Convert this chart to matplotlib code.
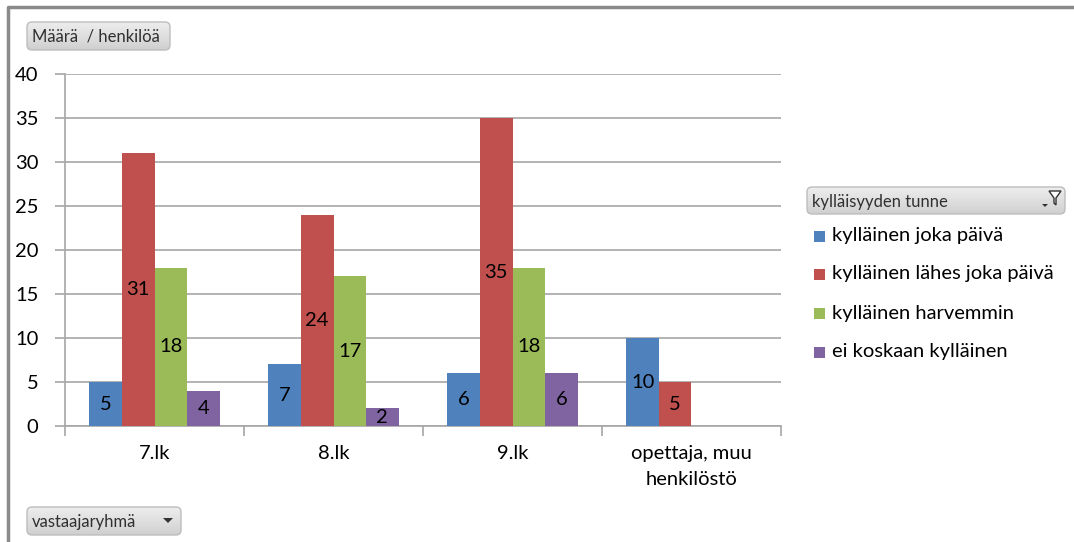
import numpy as np
import matplotlib.pyplot as plt
from matplotlib.patches import FancyBboxPatch, Polygon, Rectangle

plt.rcParams['font.family'] = ['Lato', 'DejaVu Sans']

# Vastaukset ryhmittäin
groups = ['7.lk', '8.lk', '9.lk', 'opettaja, muu\nhenkilöstö']
series = ['kylläinen joka päivä', 'kylläinen lähes joka päivä',
          'kylläinen harvemmin', 'ei koskaan kylläinen']
joka_paiva = [5, 7, 6, 10]
lahes = [31, 24, 35, 5]
harvemmin = [18, 17, 18, 0]
ei_koskaan = [4, 2, 6, 0]
colors = ['#4F81BD', '#C0504D', '#9BBB59', '#8064A2']

W, H = 1074, 542
fig = plt.figure(figsize=(W / 100, H / 100), dpi=100)
fig.patch.set_facecolor('white')

# plot area in pixels
x0, x1, ytop, ybot = 65, 781, 74, 426
ax = fig.add_axes([x0 / W, (H - ybot) / H, (x1 - x0) / W, (ybot - ytop) / H])

grid_c = '#A6A6A6'
x = np.arange(len(groups))
bw = 0.182
for i, (vals, c) in enumerate(zip([joka_paiva, lahes, harvemmin, ei_koskaan], colors)):
    v = np.array(vals, dtype=float)
    v[v == 0] = np.nan
    bars = ax.bar(x + (i - 1.5) * bw, v, bw, color=c, zorder=3, label=series[i])
    labels = ['' if np.isnan(a) else '%d' % a for a in v]
    ax.bar_label(bars, labels=labels, label_type='center', fontsize=14.5,
                 color='black', zorder=4)

ax.set_xlim(-0.5, len(groups) - 0.5)
ax.set_ylim(0, 40)
ax.set_yticks(range(0, 41, 5))
ax.yaxis.grid(True, color=grid_c, linewidth=1.2, zorder=0)
ax.set_axisbelow(True)
for s in ['top', 'right']:
    ax.spines[s].set_visible(False)
for s in ['left', 'bottom']:
    ax.spines[s].set_color(grid_c)
    ax.spines[s].set_linewidth(1.2)

ax.set_xticks(x)
ax.set_xticklabels(groups, fontsize=14.5, linespacing=1.6)
ax.tick_params(axis='x', length=0, pad=14)
ax.set_xticks(np.arange(-0.5, len(groups)), minor=True)
ax.tick_params(axis='x', which='minor', length=7, width=1.2, color=grid_c)
ax.tick_params(axis='y', labelsize=14.5, length=7, width=1.2, color=grid_c, pad=12)

# overlay in pixel coordinates for frame and buttons
ov = fig.add_axes([0, 0, 1, 1], zorder=-1)
ov.set_xlim(0, W)
ov.set_ylim(H, 0)
ov.axis('off')
ov.plot([8, 8, W], [H, 7, 7], color='#8A8A8A', lw=2.5)

top = fig.add_axes([0, 0, 1, 1], zorder=5)
top.set_xlim(0, W)
top.set_ylim(H, 0)
top.axis('off')
top.patch.set_alpha(0)

grad = np.linspace(0, 1, 64).reshape(-1, 1)


def button(xa, ya, w, h, text):
    box = FancyBboxPatch((xa, ya), w, h, boxstyle='round,pad=0,rounding_size=5',
                         fc='none', ec='#BDBDBD', lw=1, zorder=6)
    top.add_patch(box)
    im = top.imshow(grad, extent=(xa, xa + w, ya + h, ya), cmap='Greys',
                    vmin=-0.9, vmax=5.5, aspect='auto', zorder=5)
    im.set_clip_path(box)
    top.text(xa + 5, ya + h / 2 + 1, text, fontsize=12, color='#303030',
             va='center', ha='left', zorder=7)


button(27, 22, 143, 28, 'Määrä  / henkilöä')
button(807, 187, 258, 27, 'kylläisyyden tunne')
button(27, 507, 154, 28, 'vastaajaryhmä')

# dropdown arrow
top.add_patch(Polygon([[163, 518], [173, 518], [168, 523]], closed=True,
                      fc='#333333', ec='none', zorder=7))
# filter icon
top.add_patch(Polygon([[1049, 191], [1061, 191], [1056, 198], [1056, 205], [1054, 203], [1054, 198]],
                      closed=True, fc='white', ec='#333333', lw=1, zorder=7))
top.add_patch(Polygon([[1042, 204], [1048, 204], [1045, 207]], closed=True,
                      fc='#333333', ec='none', zorder=7))

# legend entries
leg_y = [236, 274, 313, 352]
for yy, c, s in zip(leg_y, colors, series):
    top.add_patch(Rectangle((814, yy - 5), 11, 11, fc=c, ec='none', zorder=7))
    top.text(832, yy, s, fontsize=14.5, va='center', ha='left', color='black', zorder=7)

fig.savefig('out.png', dpi=100)
